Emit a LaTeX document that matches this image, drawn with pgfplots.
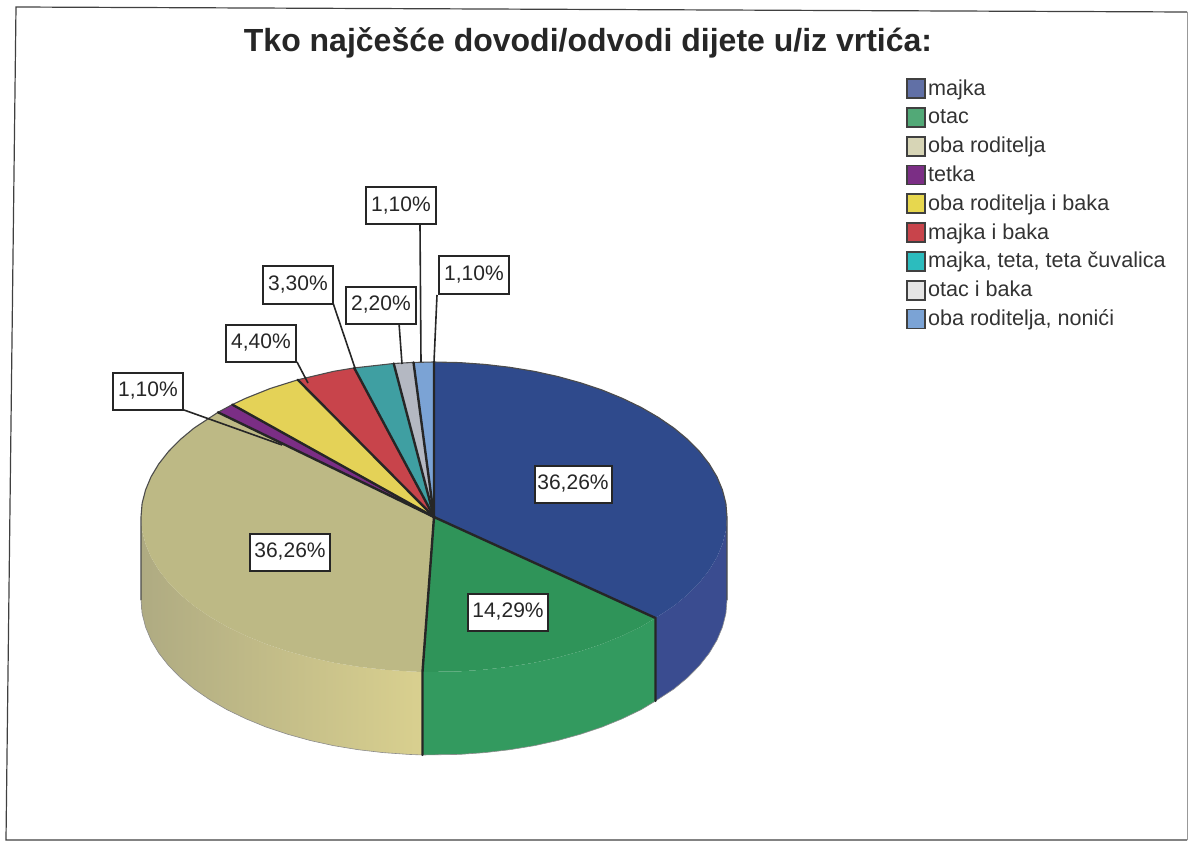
\documentclass[border=0pt]{standalone}
\usepackage{pgfplots}
\pgfplotsset{compat=1.18}
\usepackage{fontspec}
\setmainfont{Liberation Sans}
\definecolor{cBlue}{HTML}{2F4A8C}
\definecolor{cBlueS}{HTML}{3A4C90}
\definecolor{cGreen}{HTML}{2F9459}
\definecolor{cGreenS}{HTML}{339A5F}
\definecolor{cKhaki}{HTML}{BDB985}
\definecolor{cKhakiL}{HTML}{AFAB82}
\definecolor{cKhakiM}{HTML}{CBC488}
\definecolor{cKhakiR}{HTML}{D9D08F}
\definecolor{cPurple}{HTML}{7B2E85}
\definecolor{cYellow}{HTML}{E4D257}
\definecolor{cRed}{HTML}{C8444B}
\definecolor{cTeal}{HTML}{3F9FA2}
\definecolor{cGray}{HTML}{B4B8C2}
\definecolor{cLight}{HTML}{7BA3D5}
\definecolor{edge}{HTML}{262626}
\tikzset{
  pct/.style={draw=edge,line width=2pt,fill=white,text=black!85,inner sep=0pt,
    minimum width=#1,minimum height=37pt,font=\fontsize{21}{24}\selectfont,align=center},
  lead/.style={draw=edge,line width=1.6pt},
  spoke/.style={draw=edge,line width=2.4pt,line cap=round},
  sw/.style={draw=black!75,line width=1.8pt,fill=#1}
}
\begin{document}
\begin{tikzpicture}
\begin{axis}[
  width=1188pt,height=842pt,scale only axis,
  xmin=0,xmax=1188,ymin=0,ymax=842,y dir=reverse,hide axis,
  legend image code/.code={\draw[#1] (0pt,-8pt) rectangle (18pt,11pt);},
  legend cell align=left,
  legend style={at={(axis cs:906,78)},anchor=north west,draw=none,fill=none,
    font=\fontsize{21.6}{24}\selectfont,text=black!80,row sep=6.9pt,inner sep=0pt,
    nodes={text height=15pt,text depth=5pt,inner sep=0pt,inner xsep=2pt},
    /tikz/every even column/.append style={column sep=10pt}},
]
\addplot[draw=none,forget plot] coordinates {(0,0)(1188,842)};
% frame of the scan
\addplot[draw=black!75,line width=1.2pt,forget plot] coordinates {(1187,12)(16,7)(6,840)(1187,840)};
\addplot[draw=black!40,line width=1pt,forget plot] coordinates {(1187,12)(1187,840)};
% side of the pie
\addplot[fill=cBlueS,draw=none,forget plot] coordinates {(727,517)(725.9,530.5)(722.5,543.9)(717,557.1)(709.3,570)(699.5,582.5)(687.7,594.5)(674,605.9)(655.5,618)(655.5,701)(674,688.9)(687.7,677.5)(699.5,665.5)(709.3,653)(717,640.1)(722.5,626.9)(725.9,613.5)(727,600)};
\addplot[fill=cGreenS,draw=none,forget plot] coordinates {(655.5,618)(641.2,626.6)(622.3,635.7)(602.1,644)(580.5,651.2)(557.8,657.5)(534.2,662.7)(509.8,666.7)(484.9,669.6)(459.5,671.4)(422.5,672)(422.5,755)(459.5,754.4)(484.9,752.6)(509.8,749.7)(534.2,745.7)(557.8,740.5)(580.5,734.2)(602.1,727)(622.3,718.7)(641.2,709.6)(655.5,701)};
\addplot[left color=cKhakiL,middle color=cKhakiM,right color=cKhakiR,draw=none,forget plot] coordinates {(422.5,672)(408.5,671.4)(383.1,669.6)(358.2,666.7)(333.8,662.7)(310.2,657.5)(287.5,651.2)(265.9,644)(245.7,635.7)(226.8,626.6)(209.6,616.6)(194,605.9)(180.3,594.5)(168.5,582.5)(158.7,570)(151,557.1)(145.5,543.9)(142.1,530.5)(141,517)(141,600)(142.1,613.5)(145.5,626.9)(151,640.1)(158.7,653)(168.5,665.5)(180.3,677.5)(194,688.9)(209.6,699.6)(226.8,709.6)(245.7,718.7)(265.9,727)(287.5,734.2)(310.2,740.5)(333.8,745.7)(358.2,749.7)(383.1,752.6)(408.5,754.4)(422.5,755)};
% top of the pie, one polygon per slice
\addplot[fill=cBlue,draw=none,forget plot] coordinates {(434,517)(434,362)(459.5,362.6)(484.9,364.4)(509.8,367.3)(534.2,371.3)(557.8,376.5)(580.5,382.8)(602.1,390)(622.3,398.3)(641.2,407.4)(658.4,417.4)(674,428.1)(687.7,439.5)(699.5,451.5)(709.3,464)(717,476.9)(722.5,490.1)(725.9,503.5)(727,517)(725.9,530.5)(722.5,543.9)(717,557.1)(709.3,570)(699.5,582.5)(687.7,594.5)(674,605.9)(655.5,618)};
\addplot[fill=cGreen,draw=none,forget plot] coordinates {(434,517)(655.5,618)(641.2,626.6)(622.3,635.7)(602.1,644)(580.5,651.2)(557.8,657.5)(534.2,662.7)(509.8,666.7)(484.9,669.6)(459.5,671.4)(422.5,672)};
\addplot[fill=cKhaki,draw=none,forget plot] coordinates {(434,517)(422.5,672)(408.5,671.4)(383.1,669.6)(358.2,666.7)(333.8,662.7)(310.2,657.5)(287.5,651.2)(265.9,644)(245.7,635.7)(226.8,626.6)(209.6,616.6)(194,605.9)(180.3,594.5)(168.5,582.5)(158.7,570)(151,557.1)(145.5,543.9)(142.1,530.5)(141,517)(142.1,503.5)(145.5,490.1)(151,476.9)(158.7,464)(168.5,451.5)(180.3,439.5)(194,428.1)(218,412.3)};
\addplot[fill=cPurple,draw=none,forget plot] coordinates {(434,517)(218,412.3)(232.3,404.6)};
\addplot[fill=cYellow,draw=none,forget plot] coordinates {(434,517)(232.3,404.6)(245.7,398.3)(270.2,388.5)(297.8,379.8)};
\addplot[fill=cRed,draw=none,forget plot] coordinates {(434,517)(297.8,379.8)(333.8,371.3)(354.2,367.9)};
\addplot[fill=cTeal,draw=none,forget plot] coordinates {(434,517)(354.2,367.9)(393.7,363.5)};
\addplot[fill=cGray,draw=none,forget plot] coordinates {(434,517)(393.7,363.5)(413.5,362.4)};
\addplot[fill=cLight,draw=none,forget plot] coordinates {(434,517)(413.5,362.4)(434,362)};
% outlines
\addplot[draw=black!70,line width=1.1pt,forget plot] coordinates {(141,600)(141,517)(142.1,503.5)(145.5,490.1)(151,476.9)(158.7,464)(168.5,451.5)(180.3,439.5)(194,428.1)(218,412.3)(232.3,404.6)(245.7,398.3)(270.2,388.5)(297.8,379.8)(333.8,371.3)(354.2,367.9)(393.7,363.5)(413.5,362.4)(434,362)(459.5,362.6)(484.9,364.4)(509.8,367.3)(534.2,371.3)(557.8,376.5)(580.5,382.8)(602.1,390)(622.3,398.3)(641.2,407.4)(658.4,417.4)(674,428.1)(687.7,439.5)(699.5,451.5)(709.3,464)(717,476.9)(722.5,490.1)(725.9,503.5)(727,517)(727,600)};
\addplot[draw=black!45,line width=.6pt,forget plot] coordinates {(141,600)(142.1,613.5)(145.5,626.9)(151,640.1)(158.7,653)(168.5,665.5)(180.3,677.5)(194,688.9)(209.6,699.6)(226.8,709.6)(245.7,718.7)(265.9,727)(287.5,734.2)(310.2,740.5)(333.8,745.7)(358.2,749.7)(383.1,752.6)(408.5,754.4)(422.5,755)(459.5,754.4)(484.9,752.6)(509.8,749.7)(534.2,745.7)(557.8,740.5)(580.5,734.2)(602.1,727)(622.3,718.7)(641.2,709.6)(655.5,701)(674,688.9)(687.7,677.5)(699.5,665.5)(709.3,653)(717,640.1)(722.5,626.9)(725.9,613.5)(727,600)};
% spokes and vertical edges
\addplot[spoke,forget plot] coordinates {(434,362)(434,517)(655.5,618)(655.5,701)};
\addplot[spoke,forget plot] coordinates {(434,517)(422.5,672)(422.5,755)};
\addplot[spoke,forget plot] coordinates {(434,517)(218,412.3)};
\addplot[spoke,forget plot] coordinates {(434,517)(232.3,404.6)};
\addplot[spoke,forget plot] coordinates {(434,517)(297.8,379.8)};
\addplot[spoke,forget plot] coordinates {(434,517)(354.2,367.9)};
\addplot[spoke,forget plot] coordinates {(434,517)(393.7,363.5)};
\addplot[spoke,forget plot] coordinates {(434,517)(413.5,362.4)};
% leader lines
\addplot[lead,forget plot] coordinates {(420,225)(421,362)};
\addplot[lead,forget plot] coordinates {(437,295)(434,362)};
\addplot[lead,forget plot] coordinates {(333,303)(355,368)};
\addplot[lead,forget plot] coordinates {(399,323)(402,364)};
\addplot[lead,forget plot] coordinates {(297,362)(308,383)};
\addplot[lead,forget plot] coordinates {(184,410)(282,445)};
% legend
\addlegendimage{sw=cBlueS!80!white}\addlegendentry{majka}
\addlegendimage{sw=cGreenS!85!white}\addlegendentry{otac}
\addlegendimage{sw=cKhaki!60!white}\addlegendentry{oba roditelja}
\addlegendimage{sw=cPurple}\addlegendentry{tetka}
\addlegendimage{sw=cYellow!90!yellow}\addlegendentry{oba roditelja i baka}
\addlegendimage{sw=cRed}\addlegendentry{majka i baka}
\addlegendimage{sw=cTeal!70!cyan}\addlegendentry{majka, teta, teta čuvalica}
\addlegendimage{sw=black!10}\addlegendentry{otac i baka}
\addlegendimage{sw=cLight}\addlegendentry{oba roditelja, nonići}
% labels
\node[pct=77pt] at (axis cs:573,484) {36,26\%};
\node[pct=80pt] at (axis cs:508,612) {14,29\%};
\node[pct=80pt] at (axis cs:290,552) {36,26\%};
\node[pct=70pt] at (axis cs:401,206) {1,10\%};
\node[pct=70pt] at (axis cs:474,275) {1,10\%};
\node[pct=70pt] at (axis cs:298,285) {3,30\%};
\node[pct=70pt] at (axis cs:381,305) {2,20\%};
\node[pct=70pt] at (axis cs:261,343) {4,40\%};
\node[pct=70pt] at (axis cs:148,391) {1,10\%};
\node[font=\bfseries\fontsize{32}{38}\selectfont,text=black!85] at (axis cs:588,43) {Tko najčešće dovodi/odvodi dijete u/iz vrtića:};
\end{axis}
\end{tikzpicture}
\end{document}
